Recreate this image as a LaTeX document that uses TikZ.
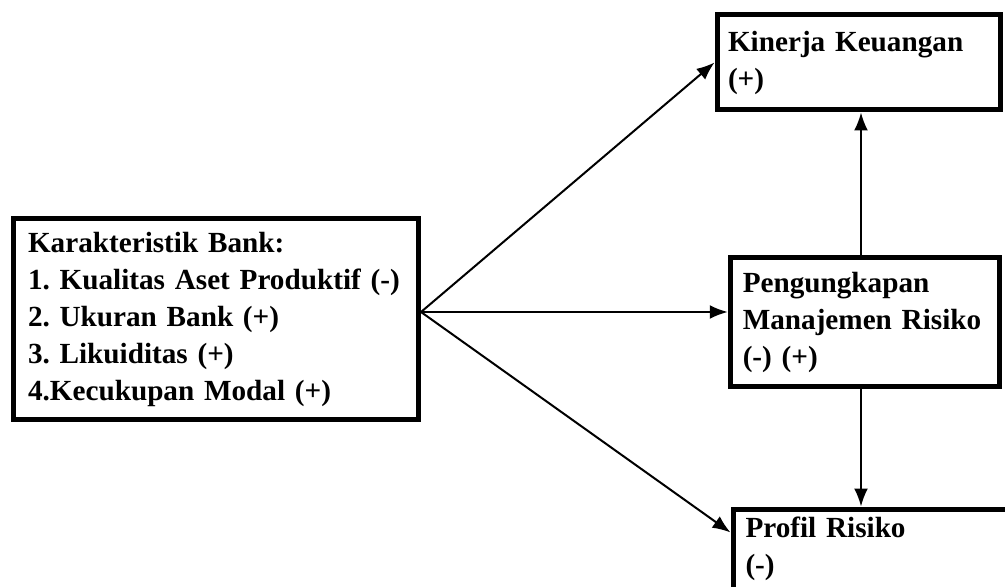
\documentclass[tikz,border=0pt]{standalone}
\usepackage{xcolor}
\usepackage{fontspec}
\setmainfont{Liberation Serif}
\usetikzlibrary{arrows.meta,calc}

\begin{document}
\frenchspacing
\begin{tikzpicture} [x=0.5pt, y=-0.5pt,
    box/.style={ draw, line width=2.5pt, rectangle, align=left, font=\fontsize{14.6}{18.5}\selectfont\bfseries },
    flow/.style={ line width=1pt, -{Latex[length=9pt,width=7pt]} } ]
    \useasboundingbox (0,0) rectangle (1005,587);

    \node [box, minimum width=202.5pt, minimum height=100.5pt, text width=188pt, inner xsep=7.25pt] (kb) at (216,319)
        {Karakteristik Bank:\\1. Kualitas Aset Produktif (-)\\2. Ukuran Bank (+)\\3. Likuiditas (+)\\4.Kecukupan Modal (+)};
    \node [box, minimum width=141.5pt, minimum height=47.5pt, text width=130.5pt, inner xsep=5.5pt] (kk) at (858.5,62.5)
        {Kinerja Keuangan\\(+)};
    \node [box, minimum width=134.75pt, minimum height=64pt, text width=122.25pt, inner xsep=6.25pt] (pmr) at (865,322)
        {Pengungkapan\\Manajemen Risiko\\(-) (+)};
    \node [box, anchor=north west, text width=130pt, inner xsep=6.25pt, inner ysep=4pt] (pr) at (730.5,506.5)
        {Profil Risiko\\(-)\rule[-60pt]{0pt}{0pt}};

    \coordinate (hub) at (421,312);
    \coordinate (vline) at (861,322);

    \draw[flow] (hub) -- (kk.west);
    \draw[flow] (hub) -- (hub -| pmr.west);
    \draw[flow] (hub) -- ($(pr.north west)+(0,26)$);
    \draw[flow] (vline |- pmr.north) -- (vline |- kk.south);
    \draw[flow] (vline |- pmr.south) -- (vline |- pr.north);
\end{tikzpicture}
\end{document}
